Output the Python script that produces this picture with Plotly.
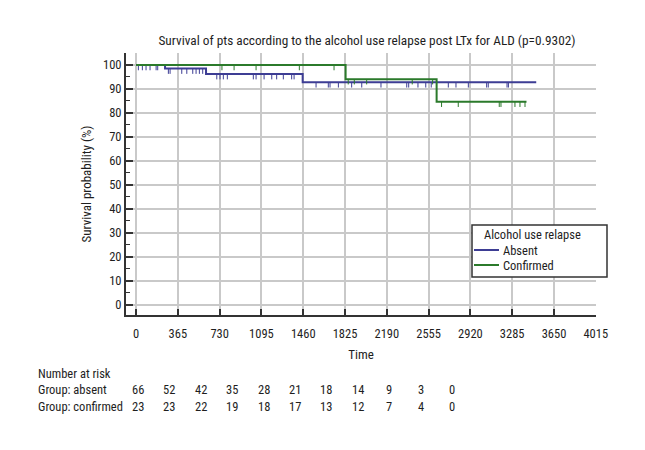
import plotly.graph_objects as go

# ---------------- data ----------------
absent_event_time = [0, 253, 611, 1455, 3495]
absent_event_surv = [100, 98.5, 96.2, 92.8, 92.8]
absent_censor_time = [20, 55, 87, 122, 175, 189, 282, 297, 399, 443, 495, 524, 553, 582,
                      705, 733, 762, 797, 1024, 1048, 1118, 1185, 1228, 1286, 1359, 1380,
                      1572, 1679, 1694, 1767, 1883, 1971, 2139, 2364, 2381, 2462, 2530,
                      2578, 2727, 2794, 2902, 3062, 3076, 3240, 3252]

confirmed_event_time = [0, 1830, 2625, 3410]
confirmed_event_surv = [100, 94.1, 84.7, 84.7]
confirmed_censor_time = [750, 856, 1048, 1426, 1729, 1853, 1906, 2014, 2412, 2590,
                         2668, 2814, 3172, 3187, 3309, 3353, 3397]

series_names = ["Absent", "Confirmed"]
legend_title = "Alcohol use relapse"

x_ticks = [0, 365, 730, 1095, 1460, 1825, 2190, 2555, 2920, 3285, 3650, 4015]
y_ticks = [0, 10, 20, 30, 40, 50, 60, 70, 80, 90, 100]

risk_labels = ["Number at risk", "Group: absent", "Group: confirmed"]
at_risk_absent = [66, 52, 42, 35, 28, 21, 18, 14, 9, 3, 0]
at_risk_confirmed = [23, 23, 22, 19, 18, 17, 13, 12, 7, 4, 0]

title_text = "Survival of pts according to the alcohol use relapse post LTx for ALD (p=0.9302)"

# ---------------- style ----------------
FONT = "Roboto Condensed, Liberation Sans Narrow, sans-serif"
FS = 12.5
TXT = "#1e1e1e"
BLUE = "#3d3d94"
GREEN = "#2b7a2b"
AX = "#333333"
GRID = "#c9c9c9"

W, H = 645, 450
OFF = 8  # page body margin in the browser
# plot area in screen pixels: x 126..596, y 53..315
L, R, T, B = 126 - OFF, W - (596 - OFF), 53 - OFF, H - (315 - OFF)
PW, PH = W - L - R, H - T - B


def px_x(sx):
    return (sx - OFF - L) / PW


def px_y(sy):
    return (T + PH - (sy - OFF)) / PH


def surv_at(t, times, survs):
    s = survs[0]
    for tt, ss in zip(times, survs):
        if tt <= t:
            s = ss
    return s


fig = go.Figure()

for name, et, es, ct, col in [
    (series_names[0], absent_event_time, absent_event_surv, absent_censor_time, BLUE),
    (series_names[1], confirmed_event_time, confirmed_event_surv, confirmed_censor_time, GREEN),
]:
    fig.add_trace(go.Scatter(x=et, y=es, mode="lines", line=dict(color=col, width=2, shape="hv"),
                             name=name, showlegend=False))
    cy = [surv_at(t, et, es) for t in ct]
    fig.add_trace(go.Scatter(
        x=ct, y=cy, mode="markers", marker=dict(size=1, color=col, opacity=0),
        error_y=dict(type="data", symmetric=False, array=[0] * len(ct),
                     arrayminus=[2.2] * len(ct), color=col, thickness=1, width=0),
        showlegend=False, hoverinfo="skip"))

fig.update_layout(
    width=W, height=H,
    margin=dict(l=L, r=R, t=T, b=B),
    paper_bgcolor="white", plot_bgcolor="white",
    font=dict(family=FONT, size=FS, color=TXT),
    title=dict(text=title_text, x=(367 - OFF) / W, xanchor="center", y=1 - (40 - OFF) / H, yanchor="middle",
               font=dict(family=FONT, size=13.3, color=TXT)),
    showlegend=False,
    xaxis=dict(
        range=[-88, 4017], tickvals=x_ticks, ticktext=[str(v) for v in x_ticks],
        showgrid=True, gridcolor=GRID, gridwidth=1.5,
        showline=True, linecolor=AX, linewidth=2,
        ticks="inside", ticklen=6, tickcolor=AX, tickwidth=1.5,
        ticklabelstandoff=6,
        zeroline=False,
        title=dict(text="Time", standoff=10, font=dict(family=FONT, size=13, color=TXT)),
        tickfont=dict(family=FONT, size=FS, color=TXT),
    ),
    yaxis=dict(
        range=[-4.2, 105], tickvals=y_ticks,
        showgrid=True, gridcolor=GRID, gridwidth=1.5,
        showline=True, linecolor=AX, linewidth=2,
        ticks="inside", ticklen=7, tickcolor=AX, tickwidth=1.5,
        minor=dict(dtick=5, tick0=0, ticks="inside", ticklen=4, tickcolor=AX, tickwidth=1, showgrid=False),
        zeroline=False,
        title=dict(text="Survival probability (%)", standoff=8, font=dict(family=FONT, size=13, color=TXT)),
        tickfont=dict(family=FONT, size=FS, color=TXT),
    ),
)

# ---------------- legend (drawn box) ----------------
fig.add_shape(type="rect", xref="paper", yref="paper",
              x0=px_x(472), x1=px_x(607), y0=px_y(277), y1=px_y(225),
              line=dict(color="#333333", width=1.5), fillcolor="white", layer="above")
fig.add_annotation(text=legend_title, xref="paper", yref="paper", x=px_x(482), y=px_y(235),
                   xanchor="left", yanchor="middle", showarrow=False,
                   font=dict(family=FONT, size=FS, color=TXT))
for name, col, sy in [(series_names[0], BLUE, 250), (series_names[1], GREEN, 265)]:
    fig.add_shape(type="line", xref="paper", yref="paper", x0=px_x(474), x1=px_x(499),
                  y0=px_y(sy), y1=px_y(sy), line=dict(color=col, width=2), layer="above")
    fig.add_annotation(text=name, xref="paper", yref="paper", x=px_x(501), y=px_y(sy),
                       xanchor="left", yanchor="middle", showarrow=False,
                       font=dict(family=FONT, size=FS, color=TXT))

# ---------------- number at risk table ----------------
row_y = [373, 389, 406]
for lab, sy in zip(risk_labels, row_y):
    fig.add_annotation(text=lab, xref="paper", yref="paper", x=px_x(36), y=px_y(sy),
                       xanchor="left", yanchor="middle", showarrow=False,
                       font=dict(family=FONT, size=FS, color=TXT))

col_start, col_step = 138, 31.4
for row, sy in [(at_risk_absent, row_y[1]), (at_risk_confirmed, row_y[2])]:
    for i, v in enumerate(row):
        fig.add_annotation(text=str(v), xref="paper", yref="paper",
                           x=px_x(col_start + i * col_step), y=px_y(sy),
                           xanchor="center", yanchor="middle", showarrow=False,
                           font=dict(family=FONT, size=FS, color=TXT))

fig.write_html("out.html")
